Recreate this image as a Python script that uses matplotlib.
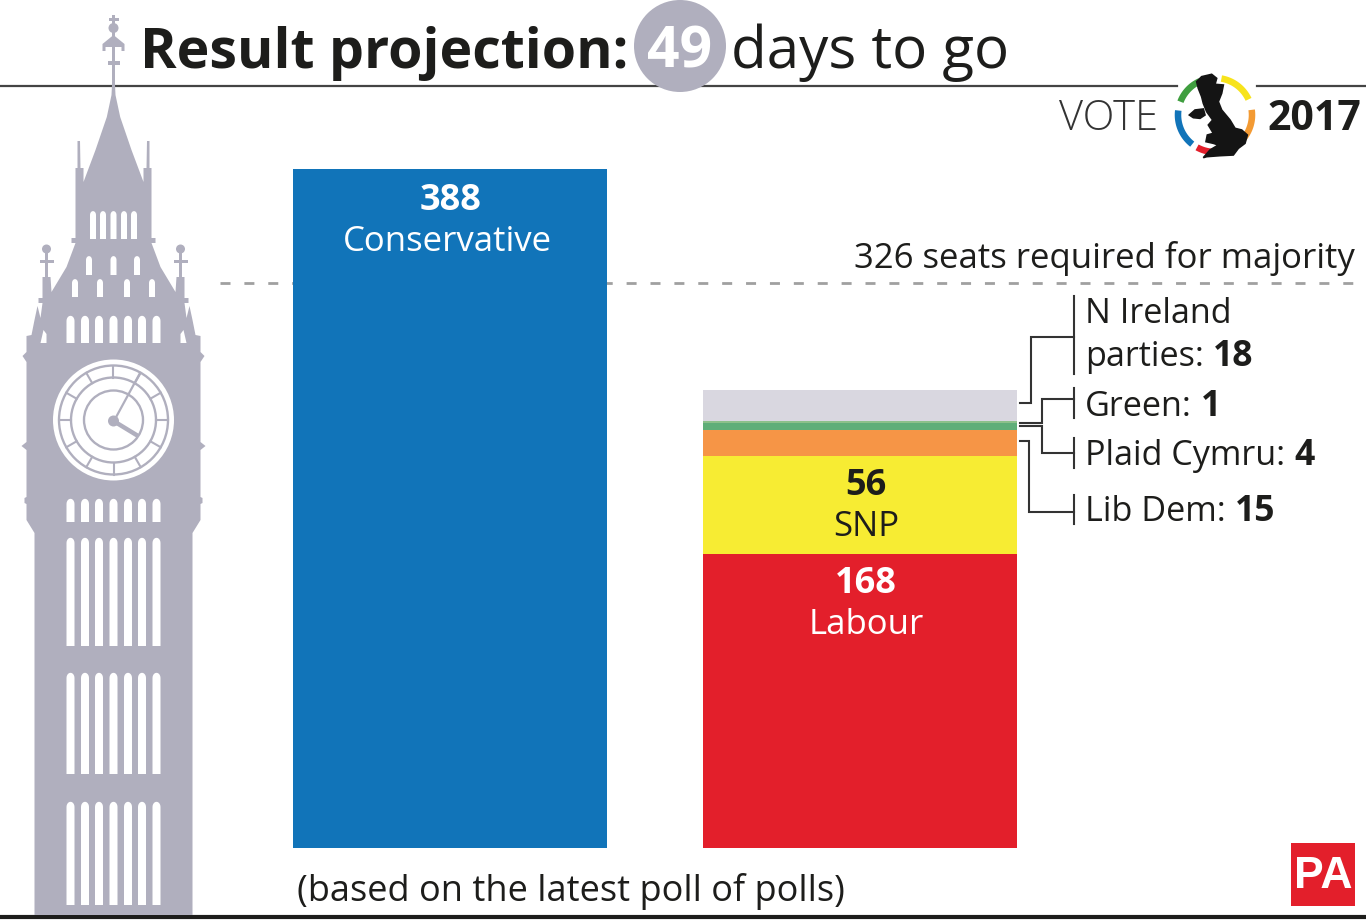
import numpy as np
import matplotlib
matplotlib.use("Agg")
import matplotlib.pyplot as plt
from matplotlib.patches import Circle, Polygon, Rectangle

W, H = 1366, 923

# seats
parties = ["Conservative", "Labour", "SNP", "Lib Dem", "Plaid Cymru", "Green", "N Ireland parties"]
seats = [388, 168, 56, 15, 4, 1, 18]
columns = [0, 1, 1, 1, 1, 1, 1]
colours = ["#1174b9", "#e31f2b", "#f7ec33", "#f69546", "#5fae78", "#8cc08a", "#d9d7e0"]

TOWER = "#b0afbe"
INK = "#1d1d1b"
FONT = ["Open Sans", "Noto Sans", "DejaVu Sans"]
plt.rcParams["font.family"] = FONT


def px_text(ax, x, y, s, size, weight="normal", color=INK, ha="left", va="baseline", **kw):
    return ax.text(x, y, s, fontsize=size, fontweight=weight, color=color, ha=ha, va=va, **kw)


def mixed_text(ax, x, y, normal, bold, size):
    """Regular text followed by a bold number on the same baseline."""
    t = px_text(ax, x, y, normal, size)
    box = t.get_window_extent(ax.figure.canvas.get_renderer())
    px_text(ax, x + box.width + 9, y, bold, size + 1, weight="bold")


def window(ax, x, top, bottom, w, color="white"):
    """Narrow window with a rounded head."""
    a = np.linspace(np.pi, 0, 14)
    head_x = x + w / 2 * np.cos(a)
    head_y = top + w / 2 - w / 2 * 1.3 * np.sin(a)
    xs = np.r_[x - w / 2, head_x, x + w / 2]
    ys = np.r_[bottom, head_y, bottom]
    ax.add_patch(Polygon(np.c_[xs, ys], fc=color, ec="none", zorder=3))


def draw_tower(ax, x0=113.5):
    half = [(1.5, 85), (2, 95), (6.7, 117), (18, 150), (30, 182), (30, 168), (33, 168),
            (33.5, 141), (36, 141), (36, 168), (38, 168), (38, 238), (42, 238), (42, 243),
            (38, 243), (47, 267), (62, 292), (63, 277), (71, 277), (71, 298), (75, 298),
            (75, 303), (71, 303), (73, 318), (76, 306), (79, 320), (82, 335), (87, 336),
            (87, 352), (91, 356), (87, 362), (87, 442), (92, 446), (87, 450), (87, 497),
            (89, 498), (89, 503), (87, 504), (87, 520), (79, 533), (79, 915)]
    half = np.array(half, dtype=float)
    right = np.c_[x0 + half[:, 0], half[:, 1]]
    left = np.c_[x0 - half[::-1, 0], half[::-1, 1]]
    ax.add_patch(Polygon(np.r_[right, left], fc=TOWER, ec="none", zorder=2))

    # finial on the spire
    ax.add_patch(Rectangle((x0 - 1.5, 15), 3, 72, fc=TOWER, ec="none", zorder=2))
    ax.add_patch(Circle((x0, 28), 5, fc=TOWER, ec="none", zorder=2))
    ax.add_patch(Rectangle((x0 - 5, 18), 10, 3, fc=TOWER, ec="none", zorder=2))
    ax.add_patch(Polygon([(x0 - 11, 51), (x0 - 11, 44), (x0, 35), (x0 + 11, 44), (x0 + 11, 51),
                          (x0 + 8, 51), (x0 + 8, 47), (x0 - 8, 47), (x0 - 8, 51)],
                         fc=TOWER, ec="none", zorder=2))
    ax.add_patch(Rectangle((x0 - 6, 61), 12, 4, fc=TOWER, ec="none", zorder=2))

    # little crosses either side of the roof
    for dx in (-67, 67):
        ax.add_patch(Rectangle((x0 + dx - 1.5, 248), 3, 30, fc=TOWER, ec="none", zorder=2))
        ax.add_patch(Circle((x0 + dx, 249), 4.5, fc=TOWER, ec="none", zorder=2))
        ax.add_patch(Rectangle((x0 + dx - 7, 259.5), 14, 3, fc=TOWER, ec="none", zorder=2))

    # windows
    for dx in (-20.5, -10.5, 0, 10.5, 20.5):
        window(ax, x0 + dx, 212, 239, 6)
    for dx in (-24.5, 0, 23.5):
        window(ax, x0 + dx, 257, 275, 6)
    for dx in (-38.5, -13.5, 13.5, 38.5):
        window(ax, x0 + dx, 280, 297, 6)
    for dx in (-43, -28.5, -14.5, 0, 14.5, 28.5, 43):
        window(ax, x0 + dx, 317, 343, 8)
        window(ax, x0 + dx, 500, 522, 8)
        window(ax, x0 + dx, 539, 646, 8)
        window(ax, x0 + dx, 674, 774, 8)
        window(ax, x0 + dx, 803, 905, 8)
    for side in (-1, 1):
        ax.add_patch(Polygon([(x0 + side * 73, 343), (x0 + side * 67, 343), (x0 + side * 67, 334),
                              (x0 + side * 70, 330)], fc="white", ec="none", zorder=3))

    # clock face
    cx, cy = x0, 420
    ax.add_patch(Circle((cx, cy), 60.5, fc="white", ec="none", zorder=3))
    for r in (54.5, 42.5, 29.5):
        ax.add_patch(Circle((cx, cy), r, fc="none", ec=TOWER, lw=1.7, zorder=4))
    for a in np.arange(0, 360, 30):
        c, s = np.cos(np.radians(a)), np.sin(np.radians(a))
        ax.plot([cx + 42.5 * c, cx + 54.5 * c], [cy + 42.5 * s, cy + 54.5 * s],
                color=TOWER, lw=1.5, zorder=4)
    ax.plot([cx + 1, cx + 26], [cy, cy - 46], color=TOWER, lw=1.6, zorder=5)
    ax.plot([cx, cx + 23], [cy + 1, cy + 15], color=TOWER, lw=3.2, zorder=5)
    ax.add_patch(Circle((cx, cy + 1), 5.5, fc=TOWER, ec="none", zorder=5))


def draw_logo(ax, cx=1215, cy=115, r=37):
    arcs = [("#f7e31b", 25, 80), ("#f39a33", -45, 8), ("#e31f2b", -119, -64),
            ("#1174b9", 173, 232), ("#3f9e3f", 114, 159)]
    for colour, a0, a1 in arcs:
        a = np.radians(np.linspace(a0, a1, 40))
        ax.plot(cx + r * np.cos(a), cy - r * np.sin(a), color=colour, lw=4.7,
                solid_capstyle="butt", zorder=3)
    gb = [(80, 50), (95, 35), (125, 28), (140, 40), (135, 58), (160, 60), (155, 85), (145, 110),
          (155, 135), (180, 165), (195, 190), (215, 195), (232, 210), (225, 235), (205, 250),
          (190, 270), (150, 272), (110, 275), (100, 278), (120, 255), (145, 240), (130, 235),
          (108, 230), (112, 210), (130, 205), (118, 185), (115, 180), (128, 165), (110, 140),
          (100, 115), (95, 95), (85, 70)]
    ireland = [(58, 150), (75, 135), (100, 132), (105, 150), (90, 160), (70, 158)]
    for shape in (gb, ireland):
        pts = [(1170 + x / 3, 65 + y / 3) for x, y in shape]
        ax.add_patch(Polygon(pts, fc="#141414", ec="#141414", lw=1.2, zorder=4))


fig = plt.figure(figsize=(W / 100, H / 100), dpi=100, facecolor="white")

# page layer in pixel coordinates
page = fig.add_axes([0, 0, 1, 1], zorder=0)
page.set_xlim(0, W)
page.set_ylim(H, 0)
page.axis("off")

page.plot([0, 1177], [85.5, 85.5], color="#444444", lw=1.6, zorder=1)
page.plot([1257, W], [85.5, 85.5], color="#444444", lw=1.6, zorder=1)
page.plot([0, W], [916.5, 916.5], color="#1d1d1b", lw=3, zorder=1)
page.plot([220, W], [283, 283], color="#a0a0a0", lw=2, dashes=(3.6, 5), zorder=1)

draw_tower(page)

px_text(page, 140, 68, "Result projection:", 40, weight="bold")
page.add_patch(Circle((680, 46), 46, fc=TOWER, ec="none", zorder=2))
px_text(page, 680, 67, "49", 41, weight="bold", color="white", ha="center", zorder=3)
px_text(page, 731, 68, "days to go", 42)

px_text(page, 1059, 130, "VOTE", 30, weight="light", color="#333333")
px_text(page, 1267, 130, "2017", 29.5, weight="bold")
draw_logo(page)

px_text(page, 854, 268, "326 seats required for majority", 25)
px_text(page, 297, 901, "(based on the latest poll of polls)", 26)

# leader lines to the small parties
leaders = [
    ([1074, 1074], [296, 374]), ([1020, 1031, 1031, 1074], [403, 403, 337, 337]),
    ([1074, 1074], [388, 418]), ([1020, 1042, 1042, 1074], [423, 423, 399, 399]),
    ([1074, 1074], [438, 468]), ([1020, 1042, 1042, 1074], [426, 426, 453, 453]),
    ([1074, 1074], [495, 524]), ([1020, 1029, 1029, 1074], [441, 441, 512, 512]),
]
for xs, ys in leaders:
    page.plot(xs, ys, color="#333333", lw=1.5, solid_joinstyle="miter", zorder=2)

px_text(page, 1085, 323, "N Ireland", 24.6)
mixed_text(page, 1085, 366, "parties:", "18", 24.6)
mixed_text(page, 1085, 416, "Green:", "1", 24.6)
mixed_text(page, 1085, 465, "Plaid Cymru:", "4", 24.6)
mixed_text(page, 1085, 521, "Lib Dem:", "15", 24.6)

page.add_patch(Rectangle((1291, 843), 64, 63, fc="#e31f2b", ec="none", zorder=2))
px_text(page, 1323, 888, "PA", 32, weight="bold", color="white", ha="center", zorder=3,
        family=["Liberation Sans Narrow", "Liberation Sans"])

# bars, stacked by column
left, right, top, bottom = 293, 1017, 169, 848
ax = fig.add_axes([left / W, 1 - bottom / H, (right - left) / W, (bottom - top) / H], zorder=1)
ax.patch.set_alpha(0)
ax.set_xlim(-0.384, 1.384)
ax.set_ylim(0, max(seats))
ax.axis("off")

stack = [0, 0]
for party, n, col, colour in zip(parties, seats, columns, colours):
    ax.bar(col, n, 0.768, bottom=stack[col], color=colour, linewidth=0)
    stack[col] += n
    if n > 50:
        ink = INK if party == "SNP" else "white"
        x_shift = 6 if col == 1 else -3
        y_shift = 4 if party == "Conservative" else 2
        ax.annotate(str(n), (col, stack[col]), xytext=(x_shift if col else 0, -28 - y_shift),
                    textcoords="offset pixels",
                    ha="center", va="center", fontsize=26, fontweight="bold", color=ink)
        ax.annotate(party, (col, stack[col]), xytext=(x_shift, -69 - y_shift),
                    textcoords="offset pixels",
                    ha="center", va="center", fontsize=25, color=ink)

fig.savefig("out.png", dpi=100)
